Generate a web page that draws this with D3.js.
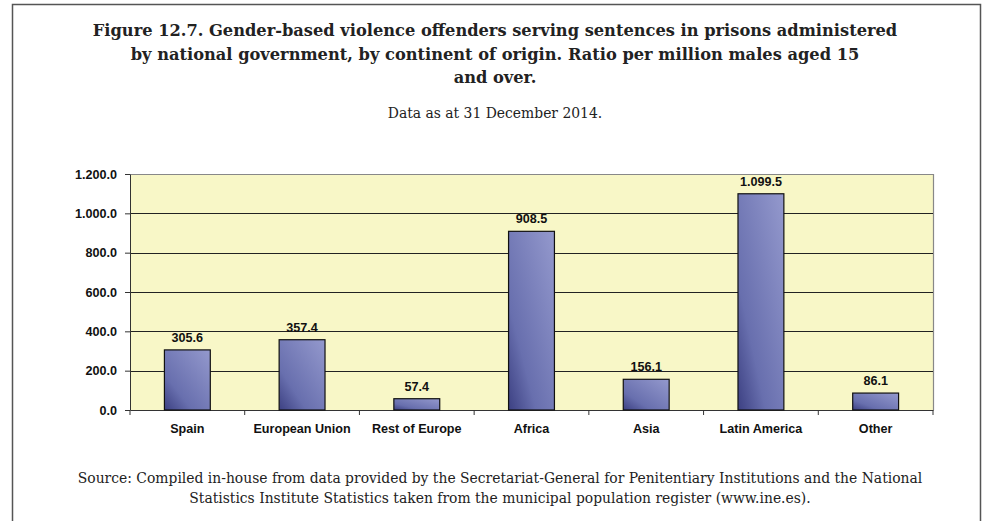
<!DOCTYPE html>
<html><head><meta charset="utf-8">
<script src="https://cdn.jsdelivr.net/npm/d3@7"></script>
<style>body{margin:0;background:#fff;} svg{display:block;}</style>
</head><body>
<svg id="chart" width="989" height="521"></svg>
<script>
const categories = ["Spain","European Union","Rest of Europe","Africa","Asia","Latin America","Other"];
const values = [305.6, 357.4, 57.4, 908.5, 156.1, 1099.5, 86.1];
const valueLabels = ["305.6","357.4","57.4","908.5","156.1","1.099.5","86.1"];
const yTicks = [0,200,400,600,800,1000,1200];
const yTickLabels = ["0.0","200.0","400.0","600.0","800.0","1.000.0","1.200.0"];
const titleLines = ["Figure 12.7. Gender-based violence offenders serving sentences in prisons administered",
  "by national government, by continent of origin. Ratio per million males aged 15","and over."];
const subtitle = "Data as at 31 December 2014.";
const sourceLines = ["Source: Compiled in-house from data provided by the Secretariat-General for Penitentiary Institutions and the National",
  "Statistics Institute Statistics taken from the municipal population register (www.ine.es)."];

(function(){
const svg = d3.select("#chart");
svg.append("path").attr("d","M12.5,521 V4.5 H980.5 V521").attr("fill","none").attr("stroke","#555").attr("stroke-width",1.5);

const cx = 495;
const serif = "'DejaVu Serif','Liberation Serif',serif";
const sans = "'Liberation Sans',Arial,sans-serif";

function fitGroup(sel, targetWidth){
  // scale font so that the first line matches the target width
  const w = sel.node().getComputedTextLength();
  const fs = parseFloat(sel.attr("font-size"));
  sel.attr("font-size", fs*targetWidth/w);
  return fs*targetWidth/w;
}

const tg = svg.append("g");
const tl = tg.selectAll("text").data(titleLines).join("text")
  .attr("x",cx).attr("y",(d,i)=>36+i*23.5).attr("text-anchor","middle")
  .attr("font-family",serif).attr("font-weight","bold").attr("font-size",16).attr("fill","#222").text(d=>d);
const tfs = fitGroup(d3.select(tl.nodes()[0]), 805);
tl.attr("font-size", tfs);

const st = svg.append("text").attr("x",cx).attr("y",118).attr("text-anchor","middle")
  .attr("font-family",serif).attr("font-size",12).attr("fill","#222").text(subtitle);
const sg = svg.append("g");
const sl = sg.selectAll("text").data(sourceLines).join("text")
  .attr("x",cx+5).attr("y",(d,i)=>483+i*20).attr("text-anchor","middle")
  .attr("font-family",serif).attr("font-size",12).attr("fill","#222").text(d=>d);
const sfs = fitGroup(d3.select(sl.nodes()[0]), 845);
sl.attr("font-size", sfs);
st.attr("font-size", sfs);

const pL=130, pR=933, pT=174, pB=410;
const x = d3.scaleBand().domain(categories).range([pL,pR]).paddingInner(0.6).paddingOuter(0.3);
const xb = d3.scaleBand().domain(categories).range([pL,pR]);
const y = d3.scaleLinear().domain([0,1200]).range([pB,pT]);

const defs = svg.append("defs");
const grad = defs.append("linearGradient").attr("id","barGrad").attr("x1","0").attr("y1","1").attr("x2","1").attr("y2","0");
grad.append("stop").attr("offset","0").attr("stop-color","#3c4082");
grad.append("stop").attr("offset","0.3").attr("stop-color","#686fae");
grad.append("stop").attr("offset","1").attr("stop-color","#9499cd");

svg.append("rect").attr("x",pL).attr("y",pT).attr("width",pR-pL).attr("height",pB-pT).attr("fill","#f8f7c7");
svg.append("path").attr("d",`M${pL},${pT+0.5} H${pR+0.5} V${pB}`).attr("fill","none").attr("stroke","#888").attr("stroke-width",1.2);
svg.append("g").selectAll("line").data(yTicks.filter(d=>d>0 && d<1200)).join("line")
  .attr("x1",pL).attr("x2",pR).attr("y1",d=>Math.round(y(d))+0.5).attr("y2",d=>Math.round(y(d))+0.5)
  .attr("stroke","#222").attr("stroke-width",1.2);

const gy = svg.append("g").attr("transform",`translate(${pL},0)`)
  .call(d3.axisLeft(y).tickValues(yTicks).tickFormat((d,i)=>yTickLabels[i]).tickSize(5).tickPadding(8).tickSizeOuter(0));
gy.selectAll("text").attr("font-family",sans).attr("font-weight","bold").attr("font-size",12.6).attr("fill","#111");
gy.selectAll("line,path").attr("stroke","#333");

const gx = svg.append("g").attr("transform",`translate(0,${pB})`)
  .call(d3.axisBottom(xb).tickSize(0).tickSizeOuter(0));
gx.selectAll("text").attr("font-family",sans).attr("font-weight","bold").attr("font-size",12.6).attr("fill","#111").attr("y",23).attr("dy",0);
gx.select(".domain").attr("stroke","#333");
svg.append("g").selectAll("line").data(categories.concat(["__end"])).join("line")
  .attr("x1",(d,i)=>pL+i*xb.step()).attr("x2",(d,i)=>pL+i*xb.step())
  .attr("y1",pB).attr("y2",pB+5).attr("stroke","#333");

svg.append("g").selectAll("rect").data(values).join("rect")
  .attr("x",(d,i)=>x(categories[i])).attr("width",x.bandwidth())
  .attr("y",d=>y(d)).attr("height",d=>pB-y(d))
  .attr("fill","url(#barGrad)").attr("stroke","#111").attr("stroke-width",1.2);

svg.append("g").selectAll("text").data(values).join("text")
  .attr("x",(d,i)=>x(categories[i])+x.bandwidth()/2).attr("y",d=>y(d)-8)
  .attr("text-anchor","middle").attr("font-family",sans).attr("font-weight","bold").attr("font-size",12.6).attr("fill","#111")
  .text((d,i)=>valueLabels[i]);
})();
</script>
</body></html>
